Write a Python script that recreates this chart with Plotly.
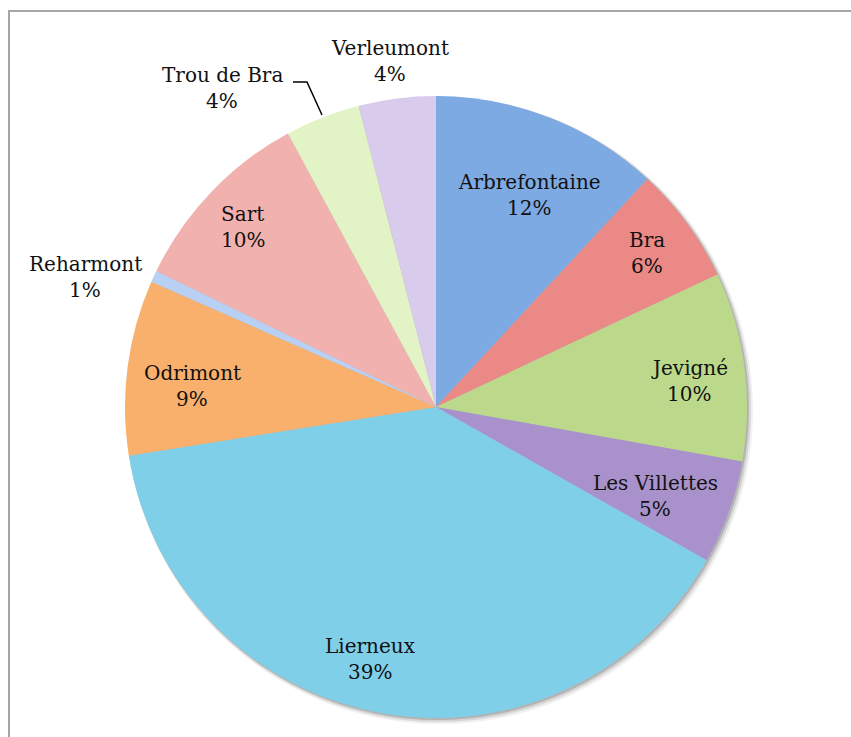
import plotly.graph_objects as go

# Share of each village (percent)
villages = ["Arbrefontaine", "Bra", "Jevigné", "Les Villettes", "Lierneux",
            "Odrimont", "Reharmont", "Sart", "Trou de Bra", "Verleumont"]
shares = [11.9, 6.1, 9.8, 5.4, 39.3, 9.1, 0.6, 9.9, 3.9, 4.0]
colors = ["#7eaae3", "#ea8985", "#bcd98b", "#a992cb", "#80cfe8",
          "#f9b06c", "#b8d0f3", "#f1b1af", "#e2f4c6", "#d9cbec"]

# label anchor points (pixels in the 851x737 page)
label_xy = {
    "Arbrefontaine": (529, 195), "Bra": (647, 253), "Jevigné": (689, 381),
    "Les Villettes": (655, 496), "Lierneux": (370, 659), "Odrimont": (192, 386),
    "Reharmont": (85, 277), "Sart": (243, 227), "Trou de Bra": (222, 88),
    "Verleumont": (390, 61),
}

W, H = 851, 737
cx, cy, r = 436, 407, 311
LINE = 26  # spacing between name and percentage

fig = go.Figure()
fig.add_trace(go.Pie(
    labels=villages,
    values=shares,
    sort=False,
    direction="clockwise",
    rotation=0,
    marker=dict(colors=colors, line=dict(width=0)),
    textinfo="none",
    hoverinfo="label+percent",
    showlegend=False,
    domain=dict(x=[(cx - r) / W, (cx + r) / W],
                y=[(H - cy - r) / H, (H - cy + r) / H]),
))

total = sum(shares)
label_font = dict(family="DejaVu Serif", size=20, color="#111111")
annotations = []
for name, v in zip(villages, shares):
    px, py = label_xy[name]
    for txt, dy in [(name, -LINE / 2), (f"{round(v / total * 100):.0f}%", LINE / 2)]:
        annotations.append(dict(
            x=px / W, y=1 - (py + dy) / H, xref="paper", yref="paper",
            text=txt, showarrow=False, xanchor="center", yanchor="middle",
            font=label_font,
        ))

shapes = []
# soft drop shadow under the pie
for off, op in [(6, 0.06), (4, 0.10), (2, 0.16)]:
    shapes.append(dict(
        type="circle", xref="paper", yref="paper", layer="below",
        x0=(cx - r + 1) / W, x1=(cx + r + off) / W,
        y0=1 - (cy + r + off) / H, y1=1 - (cy - r + 1) / H,
        fillcolor=f"rgba(0,0,0,{op})", line=dict(width=0),
    ))
# chart frame
shapes.append(dict(
    type="rect", xref="paper", yref="paper",
    x0=9 / W, x1=1.02, y0=-0.02, y1=1 - 11 / H,
    line=dict(color="#a6a6a6", width=2), fillcolor="rgba(0,0,0,0)",
))
# leader line for Trou de Bra
shapes.append(dict(
    type="path", xref="paper", yref="paper",
    path=f"M {293 / W} {1 - 82 / H} L {307 / W} {1 - 82 / H} L {322 / W} {1 - 115 / H}",
    line=dict(color="#000000", width=1.5),
))

fig.update_layout(
    width=W, height=H,
    margin=dict(l=0, r=0, t=0, b=0),
    paper_bgcolor="white", plot_bgcolor="white",
    annotations=annotations, shapes=shapes,
)

fig.write_html("out.html")
